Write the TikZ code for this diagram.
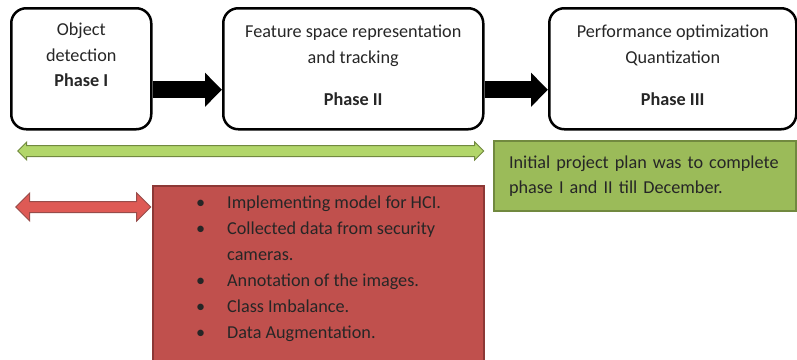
\documentclass[tikz,border=0pt]{standalone}
\usepackage{fontspec}
\setmainfont{Carlito}
\usetikzlibrary{positioning,arrows.meta,shapes.arrows}
\definecolor{planfill}{HTML}{9BBB59}
\definecolor{plandraw}{HTML}{71893F}
\definecolor{taskfill}{HTML}{C0504D}
\definecolor{taskdraw}{HTML}{8C3836}
\definecolor{spangreen}{HTML}{B2D66A}
\definecolor{spanred}{HTML}{DE5A55}

\begin{document}
\begin{tikzpicture}[
  x=1pt,y=-1pt,
  font=\fontsize{18.2}{25}\selectfont,
  phase/.style={draw, line width=2.5pt, rounded corners=15pt, anchor=north west, minimum height=121pt},
  phasetext/.style={anchor=north, align=center, inner sep=0pt, text=black!85, font=\fontsize{18.2}{26}\selectfont},
  bigarrow/.style={line width=17pt, -{Triangle[length=17pt,width=33pt]}},
  span/.style={double arrow, draw, line width=1pt, inner xsep=0pt, inner ysep=5pt, anchor=west},
  note/.style={anchor=north west, line width=2pt, inner xsep=15pt, inner ysep=0pt, align=left, text=black!85}
]
\useasboundingbox (0,0) rectangle (797,359);

% the three phases
\node[phase, minimum width=140pt] (p1) at (10,7) {};
\node[phase, minimum width=260pt] (p2) at (222,7) {};
\node[phase, minimum width=247pt] (p3) at (548,7) {};

\node[phasetext] at (p1.north) [yshift=-16pt] {Object\\detection\\[-1pt]\textbf{Phase I}};
\node[phasetext] at (p2.north) [yshift=-18pt] {Feature space representation\\and tracking\\[16pt]\textbf{Phase II}};
\node[phasetext] at (p3.north) [yshift=-18pt] {Performance optimization\\Quantization\\[16pt]\textbf{Phase III}};

\draw[bigarrow] ([yshift=-21pt]p1.east) -- ([yshift=-21pt]p2.west);
\draw[bigarrow] ([yshift=-21pt]p2.east) -- ([yshift=-21pt]p3.west);

% plan
\node[span, fill=spangreen, draw=plandraw, minimum height=466pt,
  double arrow head extend=3.5pt] (plan) at (17,151) {};
\node[note, fill=planfill, draw=plandraw, text width=272pt, minimum height=70pt]
  (initial) at (493,140) {Initial project plan was to complete\\phase I and II till\ December.};

% work done
\node[span, fill=spanred, draw=taskdraw!90, minimum height=135pt,
  double arrow head extend=8.5pt] (done) at (15,207) {};
\node[anchor=north west, fill=taskfill, draw=taskdraw, line width=2pt,
  minimum width=331pt, minimum height=180pt] (tasks) at (152,185) {};
\node[anchor=north west, align=left, inner sep=0pt, text=black!85, font=\fontsize{18.2}{26}\selectfont]
  at (tasks.north west) [xshift=44pt, yshift=-11pt] {%
  \makebox[31pt][l]{\textbullet}Implementing model for HCI.\\
  \makebox[31pt][l]{\textbullet}Collected\ data from security\\
  \hspace*{31pt}cameras.\\
  \makebox[31pt][l]{\textbullet}Annotation of the images.\\
  \makebox[31pt][l]{\textbullet}Class Imbalance.\\
  \makebox[31pt][l]{\textbullet}Data Augmentation.};

\end{tikzpicture}
\end{document}
